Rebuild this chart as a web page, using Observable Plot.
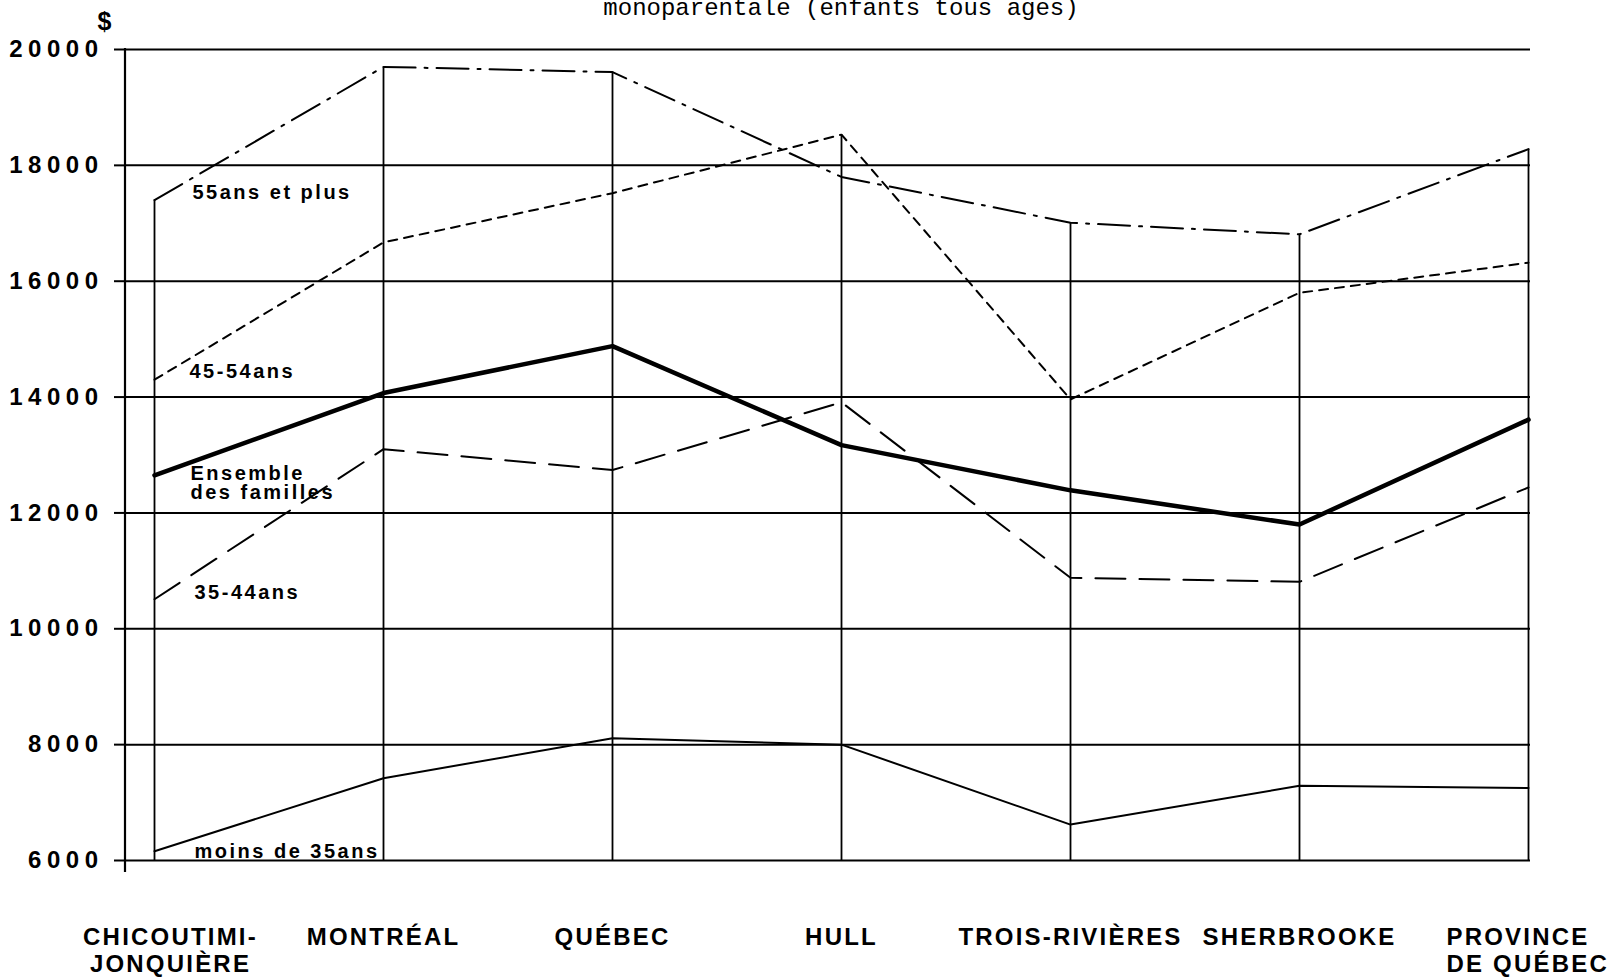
<!DOCTYPE html>
<html><head><meta charset="utf-8">
<script src="https://cdn.jsdelivr.net/npm/d3@7"></script>
<script src="https://cdn.jsdelivr.net/npm/@observablehq/plot@0.6"></script>
<style>
body{margin:0;background:#fff;}
#wrap{position:relative;width:1608px;height:977px;overflow:hidden;background:#fff;}
#title{position:absolute;left:37px;width:1608px;top:-3px;text-align:center;font-family:"Liberation Mono","DejaVu Sans Mono",monospace;font-size:24px;line-height:24px;color:#000;white-space:pre;}
#chart{position:absolute;left:0;top:0;}
g[aria-label="y-axis tick label"] text{letter-spacing:5.5px;}
g[aria-label="x-axis tick label"] text{letter-spacing:2.2px;}
g[aria-description="series label"] text{letter-spacing:2.5px;}
</style></head>
<body><div id="wrap"><div id="chart"></div><div id="title">monoparentale (enfants tous ages)</div></div>
<script>
// Categories and tick labels
const cities = ["Chicoutimi-Jonquière","Montréal","Québec","Hull","Trois-Rivières","Sherbrooke","Province de Québec"];
const cityLabels = ["CHICOUTIMI-\nJONQUIÈRE","MONTRÉAL","QUÉBEC","HULL","TROIS-RIVIÈRES","SHERBROOKE","PROVINCE\nDE QUÉBEC"];
const yTicks = [6000,8000,10000,12000,14000,16000,18000,20000];

// Series values ($)
const s55 = [17400,19700,19610,17800,17010,16810,18280];
const s45 = [14300,16670,17520,18530,13960,15800,16320];
const sAll = [12650,14070,14880,13170,12390,11800,13610];
const s35 = [10510,13100,12740,13910,10880,10810,12440];
const sU35 = [6160,7420,8110,8000,6620,7290,7250];

const seriesNames = ["55ans et plus","45-54ans","Ensemble\ndes familles","35-44ans","moins de 35ans"];
const seriesValues = [s55, s45, sAll, s35, sU35];

const rows = (vals) => cities.map((c, i) => ({city: c, value: vals[i]}));
const maxByCity = cities.map((c, i) => ({city: c, top: d3.max(seriesValues, s => s[i])}));
const firstPoint = (k) => [{city: cities[0], value: seriesValues[k][0], label: seriesNames[k]}];

const lbl = (k, dy, dx) => Plot.text(firstPoint(k), {
  x: "city", y: "value", text: "label", textAnchor: "start", lineAnchor: "middle",
  dx, dy, fontSize: 20, fontWeight: "bold", fill: "black", lineHeight: 0.98, ariaDescription: "series label"
});

const axisLine = (index, scales, values, dims) => {
  const l = d3.create("svg:line")
    .attr("x1", dims.marginLeft).attr("x2", dims.marginLeft)
    .attr("y1", dims.marginTop - 1).attr("y2", dims.height - dims.marginBottom + 12)
    .attr("stroke", "black").attr("stroke-width", 2.2);
  return l.node();
};

const xAxisOpts = {tickSize: 0, tickPadding: 66, fontSize: 24, fontWeight: "bold", label: null, lineHeight: 1.1,
  tickFormat: d => cityLabels[cities.indexOf(d)]};

const chart = Plot.plot({
  width: 1608,
  height: 977,
  marginLeft: 125,
  marginRight: 78,
  marginTop: 49,
  marginBottom: 117,
  style: {fontFamily: "'Liberation Sans', Arial, sans-serif", background: "white", color: "black"},
  x: {type: "point", domain: cities, range: [152, 1530], padding: 0},
  y: {domain: [6000, 20000]},
  marks: [
    Plot.ruleY(yTicks, {stroke: "black", strokeWidth: 2}),
    Plot.ruleX(maxByCity, {x: "city", y1: 6000, y2: "top", stroke: "black", strokeWidth: 1.8}),
    axisLine,
    Plot.axisY(yTicks, {tickSize: 11, tickPadding: 11, fontSize: 24, fontWeight: "bold", label: null, strokeWidth: 2,
      tickFormat: d => String(d)}),
    Plot.axisX([cities[0]], {...xAxisOpts, dx: 16}),
    Plot.axisX(cities.slice(1, 6), xAxisOpts),
    Plot.axisX([cities[6]], {...xAxisOpts, textAnchor: "start", dx: -82}),
    Plot.line(rows(s55), {x: "city", y: "value", stroke: "black", strokeWidth: 2, strokeDasharray: "32,9,3,9"}),
    Plot.line(rows(s45), {x: "city", y: "value", stroke: "black", strokeWidth: 2, strokeDasharray: "9,7"}),
    Plot.line(rows(sAll), {x: "city", y: "value", stroke: "black", strokeWidth: 4.5}),
    Plot.line(rows(s35), {x: "city", y: "value", stroke: "black", strokeWidth: 2, strokeDasharray: "30,14"}),
    Plot.line(rows(sU35), {x: "city", y: "value", stroke: "black", strokeWidth: 2}),
    lbl(0, -7, 38),
    lbl(1, -8, 35),
    lbl(2, 8, 36),
    lbl(3, -7, 40),
    lbl(4, 0, 40),
    Plot.text(["$"], {frameAnchor: "top-left", text: d => d, dx: -28, dy: -20, lineAnchor: "bottom", fontSize: 25, fontWeight: "bold", fill: "black"})
  ]
});
document.getElementById("chart").appendChild(chart);
</script>
</body></html>
